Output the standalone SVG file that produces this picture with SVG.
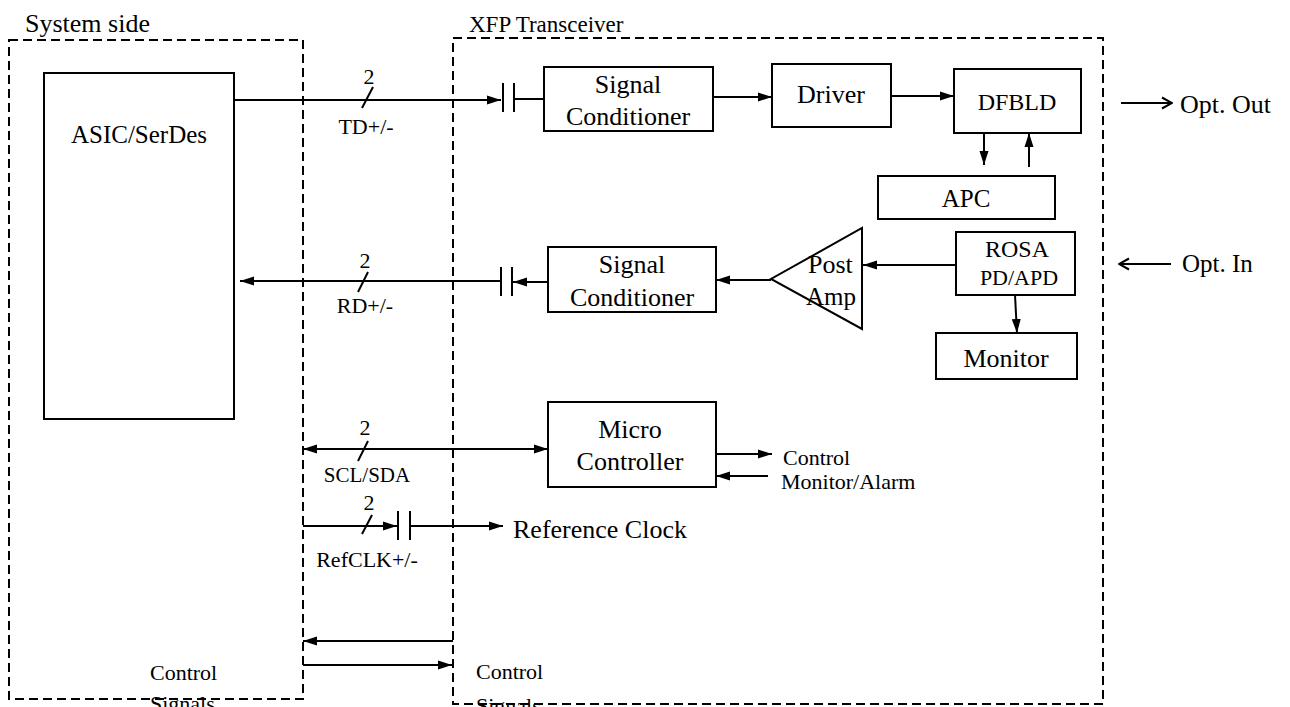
<svg xmlns="http://www.w3.org/2000/svg" width="1290" height="707" viewBox="0 0 1290 707">
<defs>
<marker id="ah" markerUnits="userSpaceOnUse" markerWidth="14" markerHeight="10" refX="14" refY="5" orient="auto-start-reverse"><path d="M0,0.5 L14,5 L0,9.5 z" fill="#000"/></marker>
<marker id="oh" markerUnits="userSpaceOnUse" markerWidth="14" markerHeight="14" refX="13" refY="7" orient="auto"><path d="M3,1.5 L13,7 L3,12.5" fill="none" stroke="#000" stroke-width="2"/></marker>
</defs>
<style>
.box{fill:#fff;stroke:#000;stroke-width:2}
.dash{fill:none;stroke:#000;stroke-width:2;stroke-dasharray:9 5}
.ln{fill:none;stroke:#000;stroke-width:2}
text{font-family:"Liberation Serif","Times New Roman",serif;fill:#000}
.c{text-anchor:middle}
.big{font-size:26px}
.mid{font-size:24px}
.lbl{font-size:22px}
</style>
<rect width="1290" height="707" fill="#fff"/>

<g id="system-side">
<rect class="dash" x="9" y="40" width="294" height="659"/>
<text x="25" y="32" style="font-size:26px">System side</text>
</g>
<g id="xfp-transceiver">
<rect class="dash" x="453" y="38" width="650" height="666"/>
<text x="469" y="32" style="font-size:23px">XFP Transceiver</text>
</g>

<g id="asic">
<rect class="box" x="44" y="73" width="190" height="346"/>
<text class="c" x="139" y="143" style="font-size:25px">ASIC/SerDes</text>
</g>
<g id="signal-conditioner-tx">
<rect class="box" x="544" y="67" width="169" height="64"/>
<text class="c big" x="628" y="93">Signal</text>
<text class="c big" x="628" y="125">Conditioner</text>
</g>
<g id="driver">
<rect class="box" x="772" y="64" width="119" height="63"/>
<text class="c big" x="831" y="103">Driver</text>
</g>
<g id="dfbld">
<rect class="box" x="954" y="69" width="127" height="64"/>
<text class="c mid" x="1017" y="110">DFBLD</text>
</g>
<g id="apc">
<rect class="box" x="878" y="176" width="177" height="43"/>
<text class="c" x="966" y="207" style="font-size:25px">APC</text>
</g>
<g id="rosa">
<rect class="box" x="956" y="232" width="119" height="63"/>
<text class="c mid" x="1017" y="257">ROSA</text>
<text class="c lbl" x="1019" y="285">PD/APD</text>
</g>
<g id="post-amp">
<polygon class="box" points="862,228 862,329 771,279"/>
<text x="808" y="273" style="font-size:26px">Post</text>
<text x="806" y="305" style="font-size:25px">Amp</text>
</g>
<g id="signal-conditioner-rx">
<rect class="box" x="548" y="247" width="168" height="65"/>
<text class="c big" x="632" y="273">Signal</text>
<text class="c big" x="632" y="306">Conditioner</text>
</g>
<g id="monitor">
<rect class="box" x="936" y="333" width="141" height="46"/>
<text class="c big" x="1006" y="367">Monitor</text>
</g>
<g id="micro-controller">
<rect class="box" x="548" y="402" width="168" height="85"/>
<text class="c big" x="630" y="438">Micro</text>
<text class="c big" x="630" y="470">Controller</text>
</g>

<g id="connectors">
<!-- TD -->
<line class="ln" x1="234" y1="100" x2="501" y2="100" marker-end="url(#ah)"/>
<line class="ln" x1="503" y1="83" x2="503" y2="112"/>
<line class="ln" x1="514" y1="83" x2="514" y2="112"/>
<line class="ln" x1="514" y1="99" x2="544" y2="99"/>
<line class="ln" x1="362" y1="108" x2="373" y2="87"/>
<!-- SC -> Driver -> DFBLD -->
<line class="ln" x1="713" y1="97" x2="772" y2="97" marker-end="url(#ah)"/>
<line class="ln" x1="891" y1="96" x2="954" y2="96" marker-end="url(#ah)"/>
<!-- DFBLD <-> APC -->
<line class="ln" x1="984" y1="133" x2="984" y2="165" marker-end="url(#ah)"/>
<line class="ln" x1="1029" y1="167" x2="1029" y2="133" marker-end="url(#ah)"/>
<!-- ROSA -> Post Amp -> SC -> RD -->
<line class="ln" x1="956" y1="265" x2="863" y2="265" marker-end="url(#ah)"/>
<line class="ln" x1="771" y1="280" x2="716" y2="280" marker-end="url(#ah)"/>
<line class="ln" x1="548" y1="282" x2="513" y2="282" marker-end="url(#ah)"/>
<line class="ln" x1="501" y1="267" x2="501" y2="296"/>
<line class="ln" x1="512" y1="267" x2="512" y2="296"/>
<line class="ln" x1="501" y1="281" x2="240" y2="281" marker-end="url(#ah)"/>
<line class="ln" x1="358" y1="292" x2="368" y2="272"/>
<!-- ROSA -> Monitor -->
<line class="ln" x1="1015" y1="295" x2="1017" y2="333" marker-end="url(#ah)"/>
<!-- SCL/SDA -->
<line class="ln" x1="303" y1="449" x2="548" y2="449" marker-start="url(#ah)" marker-end="url(#ah)"/>
<line class="ln" x1="358" y1="461" x2="368" y2="441"/>
<!-- Control / Monitor -->
<line class="ln" x1="716" y1="454" x2="772" y2="454" marker-end="url(#ah)"/>
<line class="ln" x1="768" y1="476" x2="716" y2="476" marker-end="url(#ah)"/>
<!-- RefCLK -->
<line class="ln" x1="303" y1="526" x2="397" y2="526" marker-end="url(#ah)"/>
<line class="ln" x1="398" y1="511" x2="398" y2="540"/>
<line class="ln" x1="410" y1="511" x2="410" y2="540"/>
<line class="ln" x1="410" y1="526" x2="503" y2="526" marker-end="url(#ah)"/>
<line class="ln" x1="362" y1="534" x2="372" y2="515"/>
<!-- Control signals -->
<line class="ln" x1="453" y1="641" x2="303" y2="641" marker-end="url(#ah)"/>
<line class="ln" x1="303" y1="665" x2="452" y2="665" marker-end="url(#ah)"/>
<!-- Optical -->
<line class="ln" x1="1121" y1="103" x2="1172" y2="103" marker-end="url(#oh)"/>
<line class="ln" x1="1171" y1="264" x2="1119" y2="264" marker-end="url(#oh)"/>
</g>

<g id="labels">
<text class="c lbl" x="369" y="84">2</text>
<text class="c lbl" x="366" y="134">TD+/-</text>
<text class="c lbl" x="365" y="268">2</text>
<text class="c lbl" x="365" y="313">RD+/-</text>
<text class="c lbl" x="365" y="435">2</text>
<text class="c" x="367" y="482" style="font-size:21px">SCL/SDA</text>
<text class="c lbl" x="369" y="510">2</text>
<text class="c lbl" x="367" y="567">RefCLK+/-</text>
<text x="513" y="538" style="font-size:26px">Reference Clock</text>
<text class="lbl" x="783" y="465">Control</text>
<text class="lbl" x="781" y="489">Monitor/Alarm</text>
<text class="lbl" x="150" y="680">Control</text>
<text class="lbl" x="150" y="711">Signals</text>
<text class="lbl" x="476" y="679">Control</text>
<text class="lbl" x="476" y="713">Signals</text>
<text x="1180" y="113" style="font-size:26px">Opt. Out</text>
<text x="1182" y="272" style="font-size:25px">Opt. In</text>
</g>
</svg>
